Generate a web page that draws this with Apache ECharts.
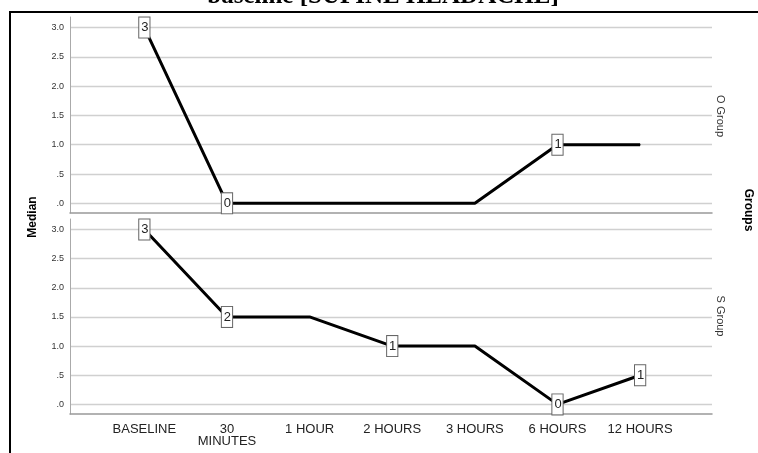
<!DOCTYPE html>
<html>
<head>
<meta charset="utf-8">
<script src="https://cdn.jsdelivr.net/npm/echarts@6/dist/echarts.min.js"></script>
<style>html,body{margin:0;padding:0;background:#fff;}#c{width:758px;height:453px;}</style>
</head>
<body>
<div id="c"></div>
<script>
const categories = ['BASELINE', '30\nMINUTES', '1 HOUR', '2 HOURS', '3 HOURS', '6 HOURS', '12 HOURS'];
const oGroup = [3, 0, 0, 0, 0, 1, 1];
const sGroup = [3, 1.5, 1.5, 1, 1, 0, 0.5];
const oLabels = ['3', '0', null, null, null, '1', null];
const sLabels = ['3', '2', null, '1', null, '0', '1'];
const yTicks = [0, 0.5, 1, 1.5, 2, 2.5, 3];
const panelNames = ['O Group', 'S Group'];

const chart = echarts.init(document.getElementById('c'), null, {renderer: 'canvas'});

const labelStyle = {
  show: true, position: 'inside',
  fontFamily: 'Liberation Sans, Arial, sans-serif', fontSize: 13, lineHeight: 16, color: '#222',
  backgroundColor: '#fff', borderColor: '#666', borderWidth: 1, padding: [3, 1, 1, 2]
};

function mkData(vals, labs) {
  return vals.map((v, i) => {
    const item = {value: [i, v]};
    if (labs[i] !== null) {
      item.label = Object.assign({}, labelStyle, {formatter: labs[i]});
    } else {
      item.label = {show: false};
    }
    return item;
  });
}

const fmtY = v => {
  if (Math.abs(v) < 1e-9) return '.0';
  if (Math.abs(v - 0.5) < 1e-9) return '.5';
  return v.toFixed(1);
};

const xMin = -0.9, xMax = 6.87;
const yMin = -0.165, yMax = 3.18;

function xAxisCfg(idx, showLabels) {
  return {
    type: 'value', gridIndex: idx, min: xMin, max: xMax,
    axisLine: {show: true, onZero: false, lineStyle: {color: '#999', width: 1.5}},
    axisTick: {show: false},
    splitLine: {show: false},
    axisLabel: {
      show: showLabels,
      customValues: categories.map((c, i) => i),
      formatter: v => categories[Math.round(v)] || '',
      fontFamily: 'Liberation Sans, Arial, sans-serif',
      fontSize: 13, lineHeight: 12, color: '#222', margin: 9
    }
  };
}
function yAxisCfg(idx) {
  return {
    type: 'value', gridIndex: idx, min: yMin, max: yMax,
    axisLine: {show: true, onZero: false, lineStyle: {color: '#aaa', width: 1}},
    axisTick: {show: false, customValues: yTicks},
    splitLine: {show: true, lineStyle: {color: '#d0d0d0', width: 1.3}},
    axisLabel: {
      customValues: yTicks, formatter: fmtY,
      fontFamily: 'Liberation Sans, Arial, sans-serif', fontSize: 9, color: '#333', margin: 6
    }
  };
}

function seriesCfg(idx, vals, labs, name) {
  return {
    type: 'line', name: name, xAxisIndex: idx, yAxisIndex: idx,
    data: mkData(vals, labs), symbol: 'circle', symbolSize: 1, showSymbol: true,
    lineStyle: {color: '#000', width: 3}, itemStyle: {color: '#000'},
    animation: false, z: 3
  };
}

const sideFont = 'Liberation Sans, Arial, sans-serif';
chart.setOption({
  animation: false,
  grid: [
    {left: 70, right: 46, top: 17, height: 196},
    {left: 70, right: 46, top: 219, height: 195}
  ],
  xAxis: [xAxisCfg(0, false), xAxisCfg(1, true)],
  yAxis: [yAxisCfg(0), yAxisCfg(1)],
  series: [seriesCfg(0, oGroup, oLabels, panelNames[0]), seriesCfg(1, sGroup, sLabels, panelNames[1])],
  graphic: [
    {type: 'line', shape: {x1: 9, y1: 12, x2: 758, y2: 12}, style: {stroke: '#000', lineWidth: 2}},
    {type: 'line', shape: {x1: 10, y1: 11, x2: 10, y2: 453}, style: {stroke: '#000', lineWidth: 2}},
    {type: 'text', x: 383, y: 9, style: {text: 'baseline [SUPINE HEADACHE]', font: 'bold 25px "Liberation Serif", "Times New Roman", serif', fill: '#000', textAlign: 'center', textVerticalAlign: 'bottom'}},
    {type: 'text', x: 33, y: 217, rotation: Math.PI / 2, style: {text: 'Median', font: 'bold 12px ' + sideFont, fill: '#000', textAlign: 'center', textVerticalAlign: 'middle'}},
    {type: 'text', x: 748, y: 210, rotation: -Math.PI / 2, style: {text: 'Groups', font: 'bold 12px ' + sideFont, fill: '#000', textAlign: 'center', textVerticalAlign: 'middle'}},
    {type: 'text', x: 720, y: 116, rotation: -Math.PI / 2, style: {text: panelNames[0], font: '11px ' + sideFont, fill: '#333', textAlign: 'center', textVerticalAlign: 'middle'}},
    {type: 'text', x: 720, y: 316, rotation: -Math.PI / 2, style: {text: panelNames[1], font: '11px ' + sideFont, fill: '#333', textAlign: 'center', textVerticalAlign: 'middle'}}
  ]
});
</script>
</body>
</html>
